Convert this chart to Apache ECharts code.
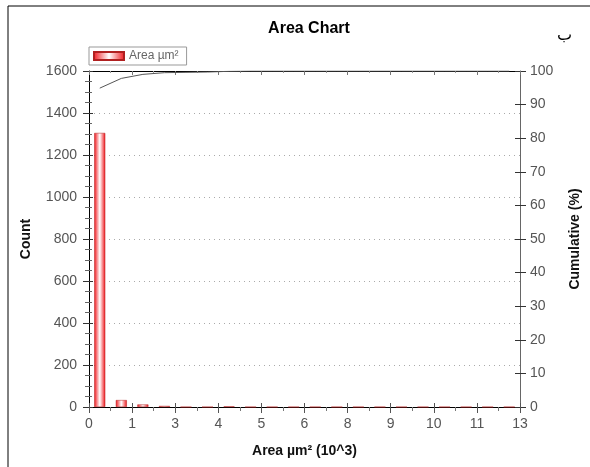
<!DOCTYPE html>
<html>
<head>
<meta charset="utf-8">
<script src="https://cdn.jsdelivr.net/npm/echarts@6/dist/echarts.min.js"></script>
<style>
  html, body { margin: 0; padding: 0; background: #fff; }
  #chart { width: 590px; height: 467px; }
</style>
</head>
<body>
<div id="chart"></div>
<script>
// x tick labels as printed on the reference (bin scale, rounded)
let xTickLabels = ["0", "1", "3", "4", "5", "6", "8", "9", "10", "11", "13"];

// histogram bin centres (in tick units) and counts
let binCenters = [0.25, 0.75, 1.25, 1.75, 2.25, 2.75, 3.25, 3.75, 4.25, 4.75,
  5.25, 5.75, 6.25, 6.75, 7.25, 7.75, 8.25, 8.75, 9.25, 9.75];
let counts = [1305, 33, 12, 5, 0, 0, 3, 0, 0, 0,
  0, 0, 0, 0, 0, 0, 0, 0, 0, 0];
let cumulative = [94.9, 97.8, 99.0, 99.5, 99.6, 99.7, 99.9, 100, 100, 100,
  100, 100, 100, 100, 100, 100, 100, 100, 100, 100];

let font = "Liberation Sans, Arial, sans-serif";

let barColor = new echarts.graphic.LinearGradient(0, 0, 1, 0, [
  { offset: 0, color: "#f0141a" },
  { offset: 0.5, color: "#ffffff" },
  { offset: 1, color: "#f0141a" }
]);

let plainLabel = { fontFamily: font, fontSize: 14, color: "#555", formatter: v => String(v) };

let chart = echarts.init(document.getElementById("chart"));

chart.setOption({
  backgroundColor: "#fff",
  animation: false,
  title: {
    text: "Area Chart",
    left: 304,
    top: 16,
    textAlign: "center",
    textStyle: { fontFamily: font, fontSize: 16, fontWeight: "bold", color: "#000" }
  },
  legend: {
    data: [{ name: "Area µm²", icon: "rect" }],
    left: 89,
    top: 47,
    borderColor: "#999",
    borderWidth: 1,
    padding: [3, 8, 3, 4],
    itemWidth: 30,
    itemHeight: 8,
    itemGap: 4,
    textStyle: { fontFamily: font, fontSize: 12, color: "#666" }
  },
  grid: { left: 89, right: 63, top: 71, bottom: 60 },
  xAxis: [
    {
      type: "value",
      min: 0,
      max: 10,
      interval: 1,
      name: "Area µm² (10^3)",
      nameLocation: "middle",
      nameGap: 37,
      nameTextStyle: { fontFamily: font, fontSize: 14, fontWeight: "bold", color: "#111" },
      axisLine: { show: true, onZero: false, lineStyle: { color: "#000", width: 1 } },
      axisTick: { show: true, length: 6, lineStyle: { color: "#555" } },
      minorTick: { show: true, splitNumber: 2, length: 4, lineStyle: { color: "#777" } },
      axisLabel: {
        fontFamily: font, fontSize: 14, color: "#555", margin: 10,
        formatter: function (v) { return xTickLabels[Math.round(v)]; }
      },
      splitLine: { show: false }
    },
    {
      type: "value",
      position: "bottom",
      min: 0,
      max: 10,
      interval: 1,
      axisLine: { show: false, onZero: false },
      axisTick: { show: true, inside: true, length: 4, lineStyle: { color: "#555" } },
      axisLabel: { show: false },
      splitLine: { show: false }
    },
    {
      type: "value",
      position: "top",
      min: 0,
      max: 10,
      interval: 1,
      axisLine: { show: true, onZero: false, lineStyle: { color: "#000", width: 1 } },
      axisTick: { show: true, inside: true, length: 4, lineStyle: { color: "#777" } },
      minorTick: { show: true, splitNumber: 2, length: 2, lineStyle: { color: "#999" } },
      axisLabel: { show: false },
      splitLine: { show: false }
    }
  ],
  yAxis: [
    {
      type: "value",
      min: 0,
      max: 1600,
      interval: 200,
      name: "Count",
      nameLocation: "middle",
      nameGap: 56,
      nameTextStyle: { fontFamily: font, fontSize: 14, fontWeight: "bold", color: "#111" },
      axisLine: { show: true, onZero: false, lineStyle: { color: "#000", width: 1 } },
      axisTick: { show: true, length: 6, lineStyle: { color: "#333" } },
      minorTick: { show: true, splitNumber: 4, length: 4, lineStyle: { color: "#666" } },
      axisLabel: Object.assign({ margin: 12 }, plainLabel),
      splitLine: { show: true, lineStyle: { color: "#aaa", type: [1, 4], width: 1 } }
    },
    {
      type: "value",
      position: "right",
      min: 0,
      max: 100,
      interval: 10,
      name: "Cumulative (%)",
      nameLocation: "middle",
      nameGap: 48,
      nameRotate: 90,
      nameTextStyle: { fontFamily: font, fontSize: 14, fontWeight: "bold", color: "#111" },
      axisLine: { show: true, onZero: false, lineStyle: { color: "#666", width: 1 } },
      axisTick: { show: true, length: 6, lineStyle: { color: "#333" } },
      axisLabel: Object.assign({ margin: 10 }, plainLabel),
      splitLine: { show: false }
    },
    {
      type: "value",
      position: "left",
      min: 0,
      max: 1600,
      interval: 200,
      axisLine: { show: false, onZero: false },
      axisTick: { show: true, inside: true, length: 4, lineStyle: { color: "#333" } },
      minorTick: { show: true, splitNumber: 4, length: 3, lineStyle: { color: "#666" } },
      axisLabel: { show: false },
      splitLine: { show: false }
    },
    {
      type: "value",
      position: "right",
      min: 0,
      max: 100,
      interval: 10,
      axisLine: { show: false, onZero: false },
      axisTick: { show: true, inside: true, length: 5, lineStyle: { color: "#333" } },
      axisLabel: { show: false },
      splitLine: { show: false }
    }
  ],
  series: [
    {
      name: "Area µm²",
      type: "bar",
      xAxisIndex: 0,
      yAxisIndex: 0,
      barWidth: 11,
      data: binCenters.map((x, i) => [x, counts[i]]),
      itemStyle: { color: barColor, borderColor: "#b02020", borderWidth: 0.5 }
    },
    {
      name: "Cumulative",
      type: "line",
      xAxisIndex: 0,
      yAxisIndex: 1,
      showSymbol: false,
      symbol: "none",
      data: binCenters.map((x, i) => [x, cumulative[i]]),
      lineStyle: { color: "#555", width: 1 },
      z: 5
    }
  ],
  graphic: [
    { type: "line", shape: { x1: 8, y1: 6, x2: 590, y2: 6 }, style: { stroke: "#000", lineWidth: 1 } },
    { type: "line", shape: { x1: 8, y1: 6, x2: 8, y2: 467 }, style: { stroke: "#000", lineWidth: 1 } },
    { type: "text", left: 557, top: 28, style: { text: "ب", font: "16px 'DejaVu Sans'", fill: "#000" } }
  ]
});
</script>
</body>
</html>
